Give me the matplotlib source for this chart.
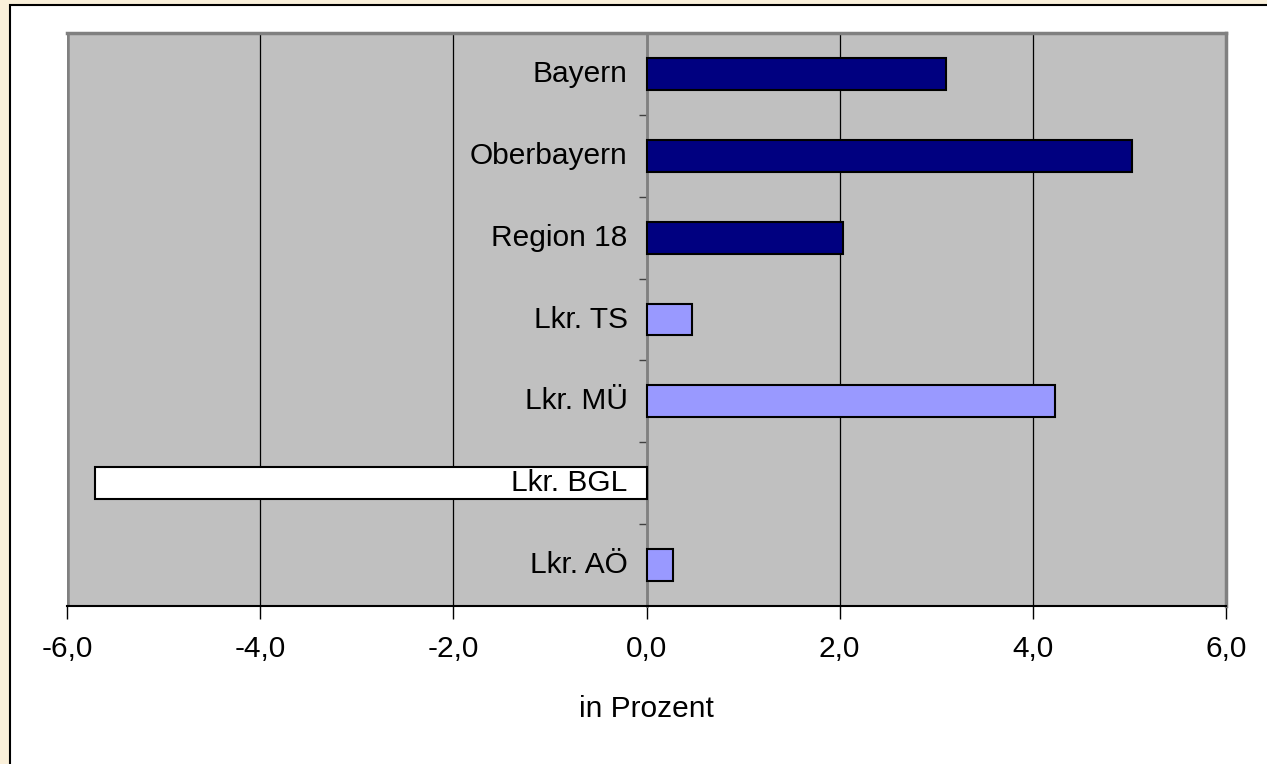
import numpy as np
import matplotlib.pyplot as plt
from matplotlib.patches import Rectangle
from matplotlib.ticker import FuncFormatter

# ── Data ───────────────────────────────────
categories = ['Bayern', 'Oberbayern', 'Region 18', 'Lkr. TS', 'Lkr. MÜ', 'Lkr. BGL', 'Lkr. AÖ']
values     = [3.1, 5.03, 2.03, 0.47, 4.23, -5.71, 0.27]
colors     = ['#000080', '#000080', '#000080', '#9999FF', '#9999FF', '#FFFFFF', '#9999FF']
x_ticks    = [-6, -4, -2, 0, 2, 4, 6]
x_label    = 'in Prozent'

FS = 21.5

plt.rcParams['font.family'] = ['Liberation Sans', 'DejaVu Sans']

fig = plt.figure(figsize=(12.67, 7.64), dpi=100)
fig.patch.set_facecolor('#FAF0DA')

# white chart panel with black edge on left/top
fig.patches.append(Rectangle((10 / 1267, -0.01), 1.02, 1 - 5 / 764 + 0.01,
                             transform=fig.transFigure, facecolor='white',
                             edgecolor='black', linewidth=1.5, zorder=-10))

ax = fig.add_axes([67 / 1267, 1 - 606 / 764, (1226 - 67) / 1267, (606 - 33) / 764])
ax.set_zorder(1)
ax.set_facecolor('#C0C0C0')

y = np.arange(len(categories))
ax.barh(y, values, height=0.39, color=colors, edgecolor='black', linewidth=1.5, zorder=3)

ax.set_xlim(-6, 6)
ax.set_ylim(len(categories) - 0.5, -0.5)

ax.set_xticks(x_ticks)
ax.xaxis.set_major_formatter(FuncFormatter(lambda v, p: f'{v:.1f}'.replace('.', ',')))
ax.tick_params(axis='x', direction='out', length=9, width=1, colors='black',
               labelsize=FS, pad=12)
ax.set_xlabel(x_label, fontsize=FS, labelpad=23)

# vertical grid
ax.grid(axis='x', color='black', linewidth=0.9, zorder=1)
ax.set_axisbelow(True)

# category axis at zero, ticks at category boundaries
ax.spines['left'].set_position(('data', 0))
ax.spines['left'].set_color('#808080')
ax.spines['left'].set_linewidth(2)
ax.spines['left'].set_zorder(2)
ax.set_yticks(np.arange(len(categories) - 1) + 0.5)
ax.set_yticklabels([])
ax.tick_params(axis='y', direction='out', length=6, width=1, colors='#404040')

for yi, name in zip(y, categories):
    ax.annotate(name, xy=(0, yi), xytext=(-19, 0), textcoords='offset pixels',
                ha='right', va='center', fontsize=FS, zorder=5)

# frame
ax.spines['bottom'].set_color('black')
ax.spines['bottom'].set_linewidth(1.5)
for s in ['top', 'right']:
    ax.spines[s].set_color('#808080')
    ax.spines[s].set_linewidth(2.5)
ax.axvline(-6, color='#808080', linewidth=4, zorder=2)

fig.savefig('out.png', dpi=100, facecolor=fig.get_facecolor())
